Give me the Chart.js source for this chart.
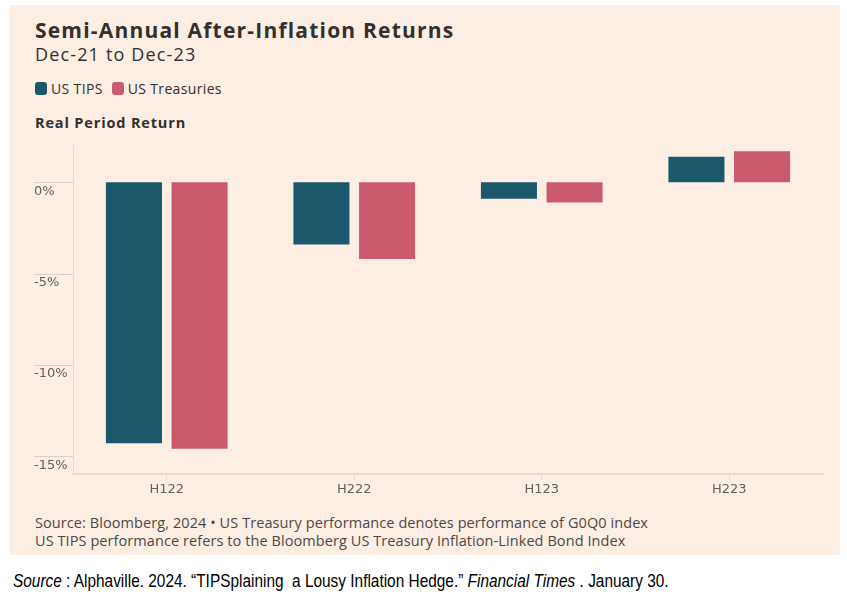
<!DOCTYPE html>
<html>
<head>
<meta charset="utf-8">
<script src="https://cdn.jsdelivr.net/npm/chart.js@4/dist/chart.umd.min.js"></script>
<style>
  html, body { margin: 0; padding: 0; background: #fff; }
  body { width: 847px; height: 595px; position: relative; overflow: hidden; font-family: "Open Sans", "Noto Sans", sans-serif; color: #33302e; }
  .panel { position: absolute; left: 10px; top: 5px; width: 830px; height: 550px; background: #fdeee3; }
  .txt { position: absolute; white-space: nowrap; }
  #title { left: 35px; top: 16px; font-size: 21px; font-weight: 700; letter-spacing: 1.2px; }
  #subtitle { left: 35px; top: 42px; font-size: 18px; letter-spacing: 1.15px; }
  #legend { left: 35px; top: 79px; font-size: 14px; letter-spacing: 0.35px; display: flex; align-items: center; }
  #legend .sw { width: 12px; height: 13px; border-radius: 3px; display: inline-block; margin-right: 4px; }
  #legend .item { display: flex; align-items: center; margin-right: 9px; }
  #ylabel { left: 35px; top: 113px; font-size: 14.5px; font-weight: 700; letter-spacing: 0.85px; }
  #src1, #src2 { left: 35px; font-size: 14.5px; color: #4d4845; letter-spacing: 0.08px; }
  #src1 { top: 513px; }
  #src2 { top: 531px; }
  #cite { left: 13px; top: 571px; font-size: 17.5px; color: #000; font-family: "Liberation Sans", Arial, sans-serif; transform: scaleX(0.88); transform-origin: left top; }
  #chartbox { position: absolute; left: 0; top: 134px; width: 847px; height: 370px; }
</style>
</head>
<body>
<div class="panel"></div>
<div class="txt" id="title">Semi-Annual After-Inflation Returns</div>
<div class="txt" id="subtitle">Dec-21 to Dec-23</div>
<div class="txt" id="legend"></div>
<div class="txt" id="ylabel">Real Period Return</div>
<div id="chartbox"><canvas id="chart"></canvas></div>
<div class="txt" id="src1">Source: Bloomberg, 2024 • US Treasury performance denotes performance of G0Q0 index</div>
<div class="txt" id="src2">US TIPS performance refers to the Bloomberg US Treasury Inflation-Linked Bond Index</div>
<div class="txt" id="cite"><i>Source</i> : Alphaville. 2024. “TIPSplaining&nbsp; a Lousy Inflation Hedge.” <i>Financial Times</i> . January 30.</div>
<script>
// Dados do gráfico
const periods = ["H122", "H222", "H123", "H223"];
const tipsReturns = [-14.3, -3.4, -0.9, 1.4];
const treasuryReturns = [-14.6, -4.2, -1.1, 1.7];
const yTicks = [0, -5, -10, -15];
const seriesNames = ["US TIPS", "US Treasuries"];
const seriesColors = ["#1b586b", "#cb5a6d"];

// Legenda em HTML
const legend = document.getElementById("legend");
seriesNames.forEach((name, i) => {
    const item = document.createElement("span");
    item.className = "item";
    item.innerHTML = `<span class="sw" style="background:${seriesColors[i]}"></span>${name}`;
    legend.appendChild(item);
});

const gridColor = "#e4dbd3";
const tickFont = { family: "DejaVu Sans", size: 13 };

// Linhas dos ticks do eixo Y, atravessando a área dos rótulos
const yTickLines = {
    id: "yTickLines",
    afterDraw(chart) {
        const y = chart.scales.y;
        const x0 = chart.chartArea.left - 39;
        const x1 = chart.chartArea.left;
        const ctx = chart.ctx;
        ctx.save();
        ctx.strokeStyle = "#d9cfc6";
        ctx.lineWidth = 1;
        yTicks.forEach(v => {
            const py = Math.round(y.getPixelForValue(v)) + 0.5;
            ctx.beginPath();
            ctx.moveTo(x0, py);
            ctx.lineTo(x1, py);
            ctx.stroke();
        });
        ctx.restore();
    }
};

new Chart(document.getElementById("chart").getContext("2d"), {
    type: "bar",
    data: {
        labels: periods,
        datasets: [
            { label: seriesNames[0], data: tipsReturns, backgroundColor: seriesColors[0] },
            { label: seriesNames[1], data: treasuryReturns, backgroundColor: seriesColors[1] }
        ]
    },
    options: {
        responsive: true,
        maintainAspectRatio: false,
        animation: false,
        layout: { padding: { left: 34, right: 24, top: 10, bottom: 6 } },
        datasets: { bar: { categoryPercentage: 0.70, barPercentage: 0.854 } },
        plugins: { legend: { display: false }, tooltip: { enabled: false } },
        scales: {
            x: {
                grid: { display: true, drawOnChartArea: false, drawTicks: true, tickLength: 6, color: gridColor, offset: false },
                border: { display: true, color: gridColor, width: 2 },
                ticks: { color: "#66605c", font: tickFont, padding: 1 }
            },
            y: {
                min: -16,
                max: 2,
                afterBuildTicks: scale => { scale.ticks = yTicks.map(v => ({ value: v })); },
                afterFit: scale => { scale.width = 39; },
                grid: { display: false, drawTicks: false },
                border: { display: true, color: gridColor, width: 1 },
                ticks: {
                    color: "#66605c",
                    font: tickFont,
                    crossAlign: "far",
                    padding: 4,
                    labelOffset: 9,
                    callback: v => v + "%"
                }
            }
        }
    },
    plugins: [yTickLines]
});
</script>
</body>
</html>
